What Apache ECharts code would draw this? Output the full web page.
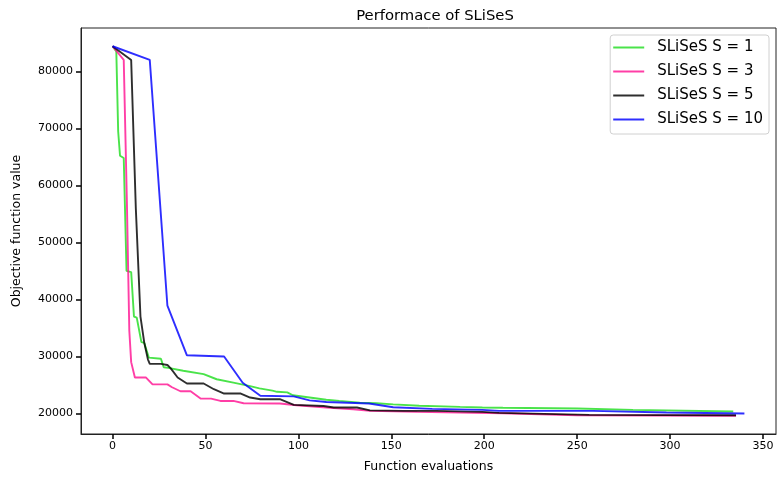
<!DOCTYPE html>
<html><head><meta charset="utf-8">
<script src="https://cdn.jsdelivr.net/npm/echarts@6/dist/echarts.min.js"></script>
<style>html,body{margin:0;padding:0;background:#fff}#c{width:777px;height:478px}</style>
</head><body><div id="c"></div>
<script>
const seriesNames = ['SLiSeS S = 1','SLiSeS S = 3','SLiSeS S = 5','SLiSeS S = 10'];
const xTicks = [0,50,100,150,200,250,300,350];
const yTicks = [20000,30000,40000,50000,60000,70000,80000];

const s1 = [[0,84400],[2,83500],[3,69500],[4,65200],[6,64800],[7.5,45000],[10,44800],[11.5,37000],[13,36800],[15.5,32500],[17,32400],[19.5,29800],[26,29600],[27.5,28100],[30,28000],[38,27500],[49,26900],[56,26000],[65,25400],[74,24800],[79,24400],[86,24000],[88.5,23800],[94,23700],[97,23200],[106,22800],[115,22400],[122,22200],[133,21900],[142,21800],[151,21600],[165,21350],[187,21150],[199,21050],[210,21000],[250,20880],[280,20630],[334,20350]];
const s3 = [[0,84400],[6,82000],[7.7,57000],[9,34500],[10,29000],[12,26300],[18,26300],[21.5,25100],[29.5,25100],[32,24600],[36.5,23900],[42,23900],[47.5,22600],[53,22600],[58,22200],[65,22200],[70.5,21800],[90,21750],[99,21450],[115,21050],[129.5,20750],[138.5,20450],[164,20280],[187,20150],[210,20050],[250,19700],[335.5,19600]];
const s5 = [[0,84400],[10,82000],[12.5,56000],[15,37000],[17,32500],[19,29500],[20,28700],[26,28700],[29.5,28500],[31.3,27900],[35,26300],[40,25250],[49,25250],[54.5,24250],[60,23500],[69,23500],[74,22800],[79.5,22500],[90,22500],[97.5,21500],[113.5,21300],[119,21050],[131.5,21050],[138.5,20550],[156.5,20450],[174,20450],[199,20280],[208,20100],[256.5,19750],[335.5,19700]];
const s10 = [[0,84400],[20,82000],[29.5,38900],[40,30200],[60,30000],[70,25400],[79.5,23100],[97.5,23000],[106,22300],[115,22000],[138,21750],[151,21100],[172,20800],[199,20630],[208,20460],[258.5,20460],[298,20180],[340,20000]];
const colors = ['#22dd22','#ff1493','#000000','#0000ff'];

const chart = echarts.init(document.getElementById('c'));
const font = 'DejaVu Sans';
const mk = (name, data, color) => ({
  name, type:'line', data, showSymbol:false, symbol:'none', animation:false,
  lineStyle:{color, width:1.9, opacity:0.82}, itemStyle:{color, opacity:0.82}
});
chart.setOption({
  animation:false,
  title:{text:'Performace of SLiSeS', left:430, textAlign:'center', top:4,
    textStyle:{fontFamily:font, fontSize:14.8, fontWeight:'normal', color:'#000'}},
  grid:{left:81, right:1, top:28, bottom:43, show:true, borderColor:'#222', borderWidth:1, backgroundColor:'transparent'},
  legend:{orient:'vertical', right:8, top:35, icon:'rect', itemWidth:31, itemHeight:2, itemGap:9,
    padding:[5,6,7,3], borderColor:'#d0d0d0', borderWidth:1, borderRadius:3, backgroundColor:'#fff',
    textStyle:{fontFamily:font, fontSize:15, lineHeight:15, color:'#000', padding:[0,0,0,8]},
    data:seriesNames},
  xAxis:{type:'value', min:-17, max:357, name:'Function evaluations', nameLocation:'middle', nameGap:26,
    nameTextStyle:{fontFamily:font, fontSize:12.5, color:'#000'},
    axisLine:{show:true, onZero:false, lineStyle:{color:'#222', width:1}}, splitLine:{show:false},
    axisTick:{show:true, inside:false, length:5, customValues:xTicks, lineStyle:{color:'#000', width:1.5}},
    axisLabel:{customValues:xTicks, fontFamily:font, fontSize:11, color:'#000', margin:7}},
  yAxis:{type:'value', min:16400, max:87600, name:'Objective function value', nameLocation:'middle', nameGap:58,
    nameTextStyle:{fontFamily:font, fontSize:12.5, color:'#000'},
    axisLine:{show:true, onZero:false, lineStyle:{color:'#222', width:1}}, splitLine:{show:false},
    axisTick:{show:true, inside:false, length:5, customValues:yTicks, lineStyle:{color:'#000', width:1.5}},
    axisLabel:{customValues:yTicks, fontFamily:font, fontSize:11, color:'#000', margin:8,
      formatter:(v)=>String(v)}},
  series:[mk(seriesNames[0],s1,colors[0]), mk(seriesNames[1],s3,colors[1]), mk(seriesNames[2],s5,colors[2]), mk(seriesNames[3],s10,colors[3])]
});
</script></body></html>
